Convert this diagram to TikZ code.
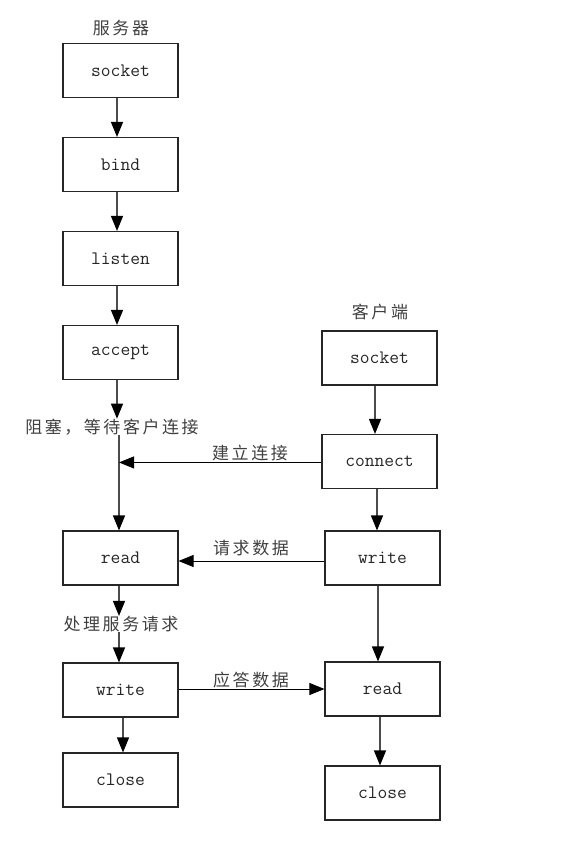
\documentclass[tikz,border=0pt]{standalone}
\usepackage{fontspec}
\newfontfamily\cjk[LetterSpace=15]{Noto Sans CJK SC}
\usetikzlibrary{arrows.meta,calc}
\begin{document}
\begin{tikzpicture}[x=1pt,y=-1pt,
  box/.style={draw=black!85,line width=1.1pt,minimum width=115pt,minimum height=54pt,inner sep=0pt,
    font=\ttfamily\fontsize{19}{19}\selectfont,text=black!85},
  lbl/.style={inner sep=0pt,font=\cjk\fontsize{17}{17}\selectfont,text=black!75},
  arr/.style={draw=black!70,line width=1.3pt,-{Triangle[length=15pt,width=12pt,color=black]}},
  harr/.style={draw=black,line width=0.8pt,-{Triangle[length=15pt,width=12pt,color=black]}}]
\useasboundingbox[fill=white] (0,0) rectangle (561,847);
% server column
\node[box] (sL) at (120.5,70.5) {socket};
\node[box] (bL) at (120.5,164.5) {bind};
\node[box] (lL) at (120.5,258.5) {listen};
\node[box] (aL) at (120.5,352.5) {accept};
\node[box] (rL) at (120.5,558) {read};
\node[box] (wL) at (120.5,690) {write};
\node[box] (cL) at (120.5,780) {close};
% client column
\node[box] (sR) at (379.5,358) {socket};
\node[box] (cnR) at (379.5,461.5) {connect};
\node[box] (wR) at (382.5,558) {write};
\node[box] (rR) at (382.5,689) {read};
\node[box] (cR) at (382.5,793) {close};
% labels
\node[lbl] (tS) at (121,28) {服务器};
\node[lbl] (tC) at (380,312) {客户端};
\node[lbl] (blk) at (112,427) {阻塞，等待客户连接};
\node[lbl] (lConn) at (250,453) {建立连接};
\node[lbl] (lReq) at (251,548) {请求数据};
\node[lbl] (proc) at (121,624) {处理服务请求};
\node[lbl] (lResp) at (251,680) {应答数据};
% server arrows
\draw[arr] ([xshift=-3.5pt]sL.south) -- ([xshift=-3.5pt]bL.north);
\draw[arr] ([xshift=-3.5pt]bL.south) -- ([xshift=-3.5pt]lL.north);
\draw[arr] ([xshift=-3.5pt]lL.south) -- ([xshift=-3.5pt]aL.north);
\draw[arr] ([xshift=-3.5pt]aL.south) -- ([xshift=-3.5pt]aL.south |- blk.north);
\coordinate (j1) at ($(rL.north)+(-1.5,-68)$);
\draw[arr] ([xshift=-1.5pt]rL.north |- blk.south) -- ([xshift=-1.5pt]rL.north);
\draw[harr] (cnR.west |- j1) -- (j1);
\draw[harr] (wR.west |- 0,561) -- (rL.east |- 0,561);
\draw[arr] ([xshift=-1.5pt]rL.south) -- ([xshift=-1.5pt]rL.south |- proc.north);
\draw[arr] ([xshift=-1.5pt]rL.south |- proc.south) -- ([xshift=-1.5pt]wL.north);
\draw[harr] (wL.east |- rR.west) -- (rR.west);
\draw[arr] ([xshift=2.5pt]wL.south) -- ([xshift=2.5pt]cL.north);
% client arrows
\draw[arr] ([xshift=-4.5pt]sR.south) -- ([xshift=-4.5pt]cnR.north);
\draw[arr] ([xshift=-2.5pt]cnR.south) -- ([xshift=-2.5pt]cnR.south |- wR.north);
\draw[arr] ([xshift=-4.5pt]wR.south) -- ([xshift=-4.5pt]rR.north);
\draw[arr] ([xshift=-2.5pt]rR.south) -- ([xshift=-2.5pt]cR.north);
\end{tikzpicture}
\end{document}
